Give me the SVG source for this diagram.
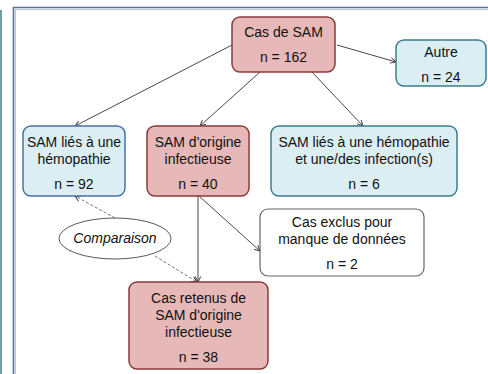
<svg xmlns="http://www.w3.org/2000/svg" width="488" height="374" viewBox="0 0 488 374">
<style>
text{font-family:"Liberation Sans",Arial,sans-serif;font-size:14px;fill:#111;text-anchor:middle}
.red{fill:#e6b8b7;stroke:#8c3a3a;stroke-width:1.5}
.blue{fill:#dbeef4;stroke:#4a72a8;stroke-width:1.5}
.teal{fill:#dbeef4;stroke:#3a7f8c;stroke-width:1.5}
.white{fill:#fff;stroke:#666;stroke-width:1.2}
.con line{stroke:#333;stroke-width:0.9;fill:none}
.dash{stroke-dasharray:3,2;stroke:#666 !important}
</style>
<defs>
<marker id="arr" viewBox="0 0 10 10" refX="9" refY="5" markerWidth="7" markerHeight="7" orient="auto" markerUnits="userSpaceOnUse">
<path d="M1,1 L9,5 L1,9" fill="none" stroke="#333" stroke-width="1.3"/>
</marker>
</defs>
<rect x="0" y="0" width="488" height="374" fill="#fff"/>
<rect x="0" y="10" width="2" height="364" fill="#6f9ea3"/>
<path d="M13.5,374 V7.5 H488" fill="none" stroke="#5b7193" stroke-width="1.6"/>
<path d="M15.5,374 V9.5 H488" fill="none" stroke="#b8c6d8" stroke-width="1"/>
<g class="con">
<line x1="232" y1="45" x2="75" y2="126" marker-end="url(#arr)"/>
<line x1="260" y1="72" x2="200" y2="126" marker-end="url(#arr)"/>
<line x1="312" y1="72" x2="363" y2="126" marker-end="url(#arr)"/>
<line x1="337" y1="45" x2="396" y2="62" marker-end="url(#arr)"/>
<line x1="198" y1="196" x2="198" y2="282" marker-end="url(#arr)"/>
<line x1="199" y1="196" x2="260" y2="251" marker-end="url(#arr)"/>
<line class="dash" x1="115" y1="218" x2="75" y2="196" marker-end="url(#arr)"/>
<line class="dash" x1="155" y1="256" x2="197" y2="282" marker-end="url(#arr)"/>
</g>
<g id="cas-de-sam"><rect class="red" x="232" y="17" width="103" height="55" rx="8"/><text x="283.5" y="37">Cas de SAM</text><text x="283.5" y="62">n = 162</text></g>
<g id="autre"><rect class="teal" x="396" y="40" width="90" height="46" rx="8"/><text x="441" y="57">Autre</text><text x="441" y="82">n = 24</text></g>
<g id="sam-hemo"><rect class="blue" x="23" y="126" width="102" height="70" rx="8"/><text x="74" y="147">SAM liés à une</text><text x="74" y="164">hémopathie</text><text x="74" y="189">n = 92</text></g>
<g id="sam-infect"><rect class="red" x="147" y="126" width="102" height="70" rx="8"/><text x="198" y="147">SAM d'origine</text><text x="198" y="164">infectieuse</text><text x="198" y="189">n = 40</text></g>
<g id="sam-hemo-infect"><rect class="teal" x="271" y="126" width="186" height="70" rx="8"/><text x="364" y="147">SAM liés à une hémopathie</text><text x="364" y="164">et une/des infection(s)</text><text x="364" y="189">n = 6</text></g>
<g id="exclus"><rect class="white" x="260" y="209" width="164" height="67" rx="8"/><text x="342" y="227">Cas exclus pour</text><text x="342" y="244">manque de données</text><text x="342" y="269">n = 2</text></g>
<g id="comparaison"><ellipse cx="115" cy="238.5" rx="56" ry="20.5" fill="#fff" stroke="#444" stroke-width="0.9"/><text x="115" y="243" font-style="italic">Comparaison</text></g>
<g id="retenus"><rect class="red" x="129" y="282" width="139" height="87" rx="8"/><text x="198.5" y="303">Cas retenus de</text><text x="198.5" y="320">SAM d'origine</text><text x="198.5" y="337">infectieuse</text><text x="198.5" y="362">n = 38</text></g>
</svg>
